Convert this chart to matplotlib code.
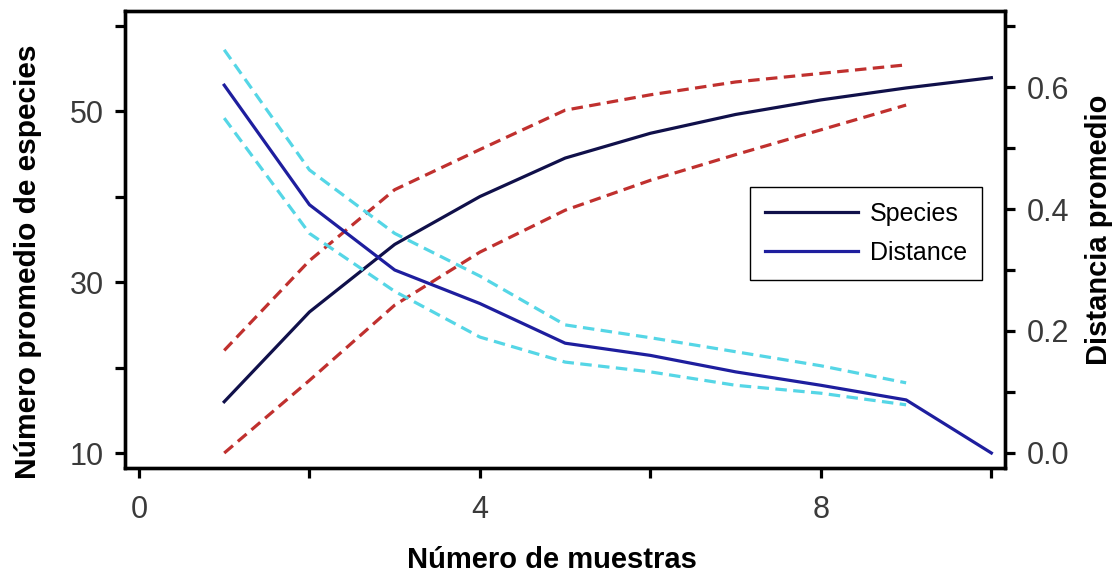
import matplotlib
matplotlib.use("Agg")
import matplotlib.pyplot as plt
from matplotlib.ticker import FixedLocator

plt.rcParams['font.family'] = ['Liberation Sans', 'DejaVu Sans']

# muestras
x_species = [1, 2, 3, 4, 5, 6, 7, 8, 9, 10]
x_ci = [1, 2, 3, 4, 5, 6, 7, 8, 9]

# numero promedio de especies (eje izquierdo)
species = [16.0, 26.5, 34.4, 40.0, 44.5, 47.4, 49.6, 51.3, 52.7, 53.9]
species_upper = [22.0, 32.5, 40.8, 45.5, 50.1, 51.9, 53.4, 54.4, 55.4]
species_lower = [10.0, 18.5, 27.3, 33.5, 38.4, 41.9, 44.9, 47.8, 50.7]

# distancia promedio (eje derecho)
distance = [0.603, 0.407, 0.300, 0.245, 0.180, 0.160, 0.133, 0.111, 0.087, 0.0]
distance_upper = [0.661, 0.464, 0.360, 0.290, 0.210, 0.189, 0.166, 0.143, 0.115]
distance_lower = [0.549, 0.360, 0.265, 0.190, 0.149, 0.133, 0.111, 0.098, 0.079]

fig = plt.figure(figsize=(11.17, 5.78), dpi=100)
ax = fig.add_axes([125 / 1117, 1 - 468 / 578, 880 / 1117, 457 / 578])
ax2 = ax.twinx()

dash = (0, (3.6, 2.0))
red = '#c0302e'
cyan = '#55d6e6'

ax.plot(x_ci, species_upper, color=red, lw=2.3, ls=dash)
ax.plot(x_ci, species_lower, color=red, lw=2.3, ls=dash)
l1, = ax.plot(x_species, species, color='#10104a', lw=2.3, label='Species')

ax2.plot(x_ci, distance_upper, color=cyan, lw=2.3, ls=dash)
ax2.plot(x_ci, distance_lower, color=cyan, lw=2.3, ls=dash)
l2, = ax2.plot(x_species, distance, color='#1e1e9e', lw=2.3, label='Distance')

ax.set_xlim(-0.164, 10.16)
ax.set_ylim(8.25, 61.7)
ax2.set_ylim(-0.0246, 0.7246)

ax.xaxis.set_major_locator(FixedLocator([0, 4, 8]))
ax.xaxis.set_minor_locator(FixedLocator([2, 6, 10]))
ax.yaxis.set_major_locator(FixedLocator([10, 30, 50]))
ax.yaxis.set_minor_locator(FixedLocator([20, 40, 60]))
ax2.yaxis.set_major_locator(FixedLocator([0.0, 0.2, 0.4, 0.6]))
ax2.yaxis.set_minor_locator(FixedLocator([0.1, 0.3, 0.5, 0.7]))
ax2.set_yticklabels(['0.0', '0.2', '0.4', '0.6'])

for a in (ax, ax2):
    for s in a.spines.values():
        s.set_linewidth(2.4)
    a.tick_params(which='both', direction='out', length=7.5, width=2.3,
                  labelsize=22, labelcolor='#3a3a3a', pad=8)
ax.tick_params(axis='x', pad=12)

fig.text(0.494, 0.031, 'Número de muestras', fontsize=21, fontweight='bold',
         ha='center', va='center')
fig.text(0.025, 0.547, 'Número promedio de especies', fontsize=21.5,
         fontweight='bold', rotation=90, ha='center', va='center')
fig.text(0.984, 0.602, 'Distancia promedio', fontsize=21, fontweight='bold',
         rotation=90, ha='center', va='center')

leg = ax2.legend([l1, l2], ['Species', 'Distance'], loc='upper left',
                 bbox_to_anchor=(750 / 1117, 1 - 187 / 578),
                 bbox_transform=fig.transFigure, borderaxespad=0,
                 fontsize=18, handlelength=3.7, handletextpad=0.5,
                 labelspacing=0.6, borderpad=0.6, fancybox=False,
                 framealpha=1, edgecolor='black')
leg.get_frame().set_linewidth(1.0)

fig.savefig('out.png', dpi=100)
